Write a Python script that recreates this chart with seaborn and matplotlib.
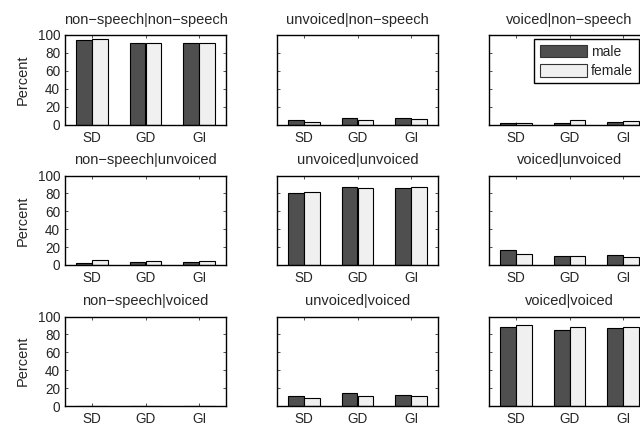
import matplotlib
matplotlib.use("Agg")
import matplotlib.pyplot as plt
import pandas as pd
import seaborn as sns

sns.set_style("ticks")
plt.rcParams["font.family"] = ["Liberation Sans", "DejaVu Sans"]

# Methods on the x axis and the two speaker groups
methods = ["SD", "GD", "GI"]
speakers = ["male", "female"]
# Panel columns / rows: "<column class>|<row class>"
col_classes = ["non−speech", "unvoiced", "voiced"]
row_classes = ["non−speech", "unvoiced", "voiced"]

# Percentages, one list per panel (SD, GD, GI), rows in order of row_classes
male_row1 = [[94.5, 91, 91], [5, 7.2, 7.2], [1.3, 2, 2.3]]
female_row1 = [[96, 91, 91], [2.8, 4.7, 6], [2, 4.6, 3.5]]
male_row2 = [[2.2, 3.3, 3.3], [81, 87, 86], [16.3, 10, 10.8]]
female_row2 = [[5.2, 4.8, 4.8], [82, 85.5, 87], [12, 9.6, 8.5]]
male_row3 = [[0.5, 0.5, 0.5], [11, 14.5, 12.2], [88, 85, 87]]
female_row3 = [[0.3, 0.3, 0.3], [9, 11, 11.5], [90.7, 88.5, 88]]

male_rows = [male_row1, male_row2, male_row3]
female_rows = [female_row1, female_row2, female_row3]

yticks = [0, 20, 40, 60, 80, 100]
colors = ["#4f4f4f", "#f0f0f0"]

W, H = 640, 425
fig = plt.figure(figsize=(W / 100, H / 100), dpi=100)

col_left = [65, 277, 489]
row_top = [35, 175.5, 316.5]
ax_w, ax_h = 161, 89.5

for r in range(3):
    for c in range(3):
        x0, y0 = col_left[c], row_top[r]
        ax = fig.add_axes([x0 / W, 1 - (y0 + ax_h) / H, ax_w / W, ax_h / H])
        df = pd.DataFrame({
            "method": methods * 2,
            "speaker": [speakers[0]] * 3 + [speakers[1]] * 3,
            "percent": male_rows[r][c] + female_rows[r][c],
        })
        sns.barplot(data=df, x="method", y="percent", hue="speaker",
                    order=methods, hue_order=speakers, palette=colors,
                    edgecolor="black", linewidth=0.8, width=0.59,
                    legend=False, ax=ax)
        ax.set_xlim(-0.5, 2.5)
        ax.set_ylim(0, 100)
        ax.set_yticks(yticks)
        ax.set_xlabel("")
        ax.set_title(f"{col_classes[c]}|{row_classes[r]}", fontsize=10.5, pad=8)
        ax.tick_params(direction="in", length=2.5, width=0.6, top=True, right=True,
                       labelsize=9.8, color="#333333")
        ax.tick_params(axis="x", pad=4.5)
        ax.tick_params(axis="y", pad=3.5)
        for s in ax.spines.values():
            s.set_linewidth(1.0)
            s.set_color("black")
        if c == 0:
            ax.set_ylabel("Percent", fontsize=10.5, labelpad=6)
        else:
            ax.set_ylabel("")
            ax.set_yticklabels([])
        if r == 0 and c == 2:
            handles = [plt.Rectangle((0, 0), 1, 1, facecolor=colors[i],
                                     edgecolor="#333333", linewidth=0.8)
                       for i in range(2)]
            leg = ax.legend(handles, speakers, loc="upper left",
                            bbox_to_anchor=(0.28, 0.955), borderaxespad=0,
                            fontsize=10, handlelength=3.4, handleheight=1.05,
                            labelspacing=0.35, borderpad=0.4, handletextpad=0.3,
                            fancybox=False, framealpha=1, edgecolor="black")
            leg.get_frame().set_linewidth(1.0)

fig.savefig("out.png", dpi=100)
